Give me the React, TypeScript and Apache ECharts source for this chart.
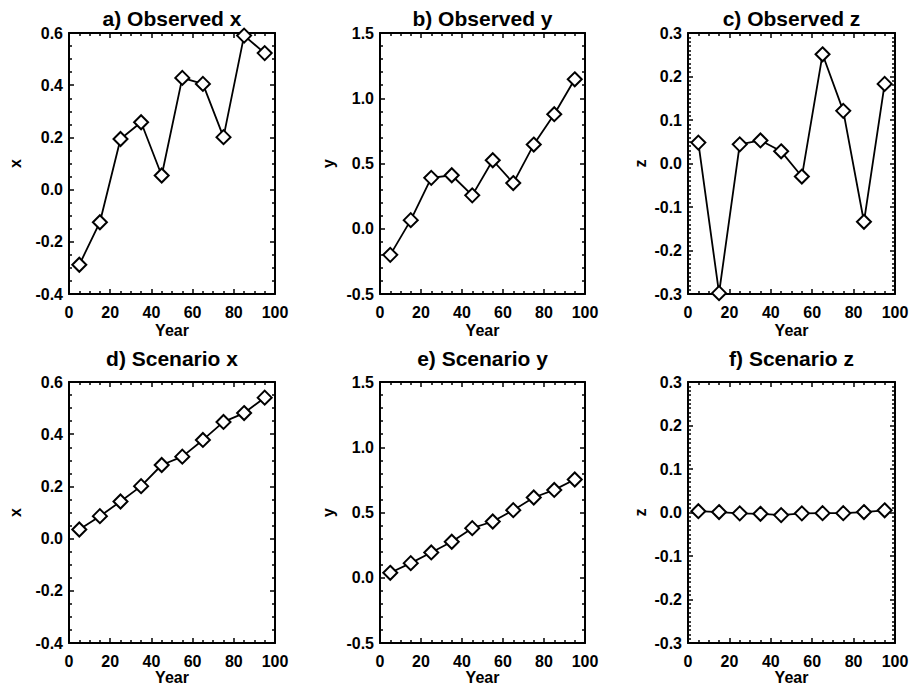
import React, { useEffect, useRef } from "react";
import * as echarts from "echarts";

const years = [5, 15, 25, 35, 45, 55, 65, 75, 85, 95];
const xTicks = [0, 20, 40, 60, 80, 100];

const observedX = [-0.288, -0.125, 0.194, 0.258, 0.054, 0.428, 0.405, 0.201, 0.59, 0.523];
const observedY = [-0.2, 0.066, 0.39, 0.41, 0.256, 0.525, 0.35, 0.645, 0.878, 1.145];
const observedZ = [0.048, -0.298, 0.044, 0.053, 0.028, -0.03, 0.251, 0.121, -0.134, 0.183];
const scenarioX = [0.035, 0.086, 0.142, 0.201, 0.282, 0.314, 0.378, 0.447, 0.481, 0.54];
const scenarioY = [0.038, 0.112, 0.194, 0.276, 0.38, 0.431, 0.518, 0.615, 0.673, 0.753];
const scenarioZ = [0.003, 0.001, -0.002, -0.003, -0.006, -0.002, -0.0015, -0.0015, 0.001, 0.005];

const titles = ["a) Observed x", "b) Observed y", "c) Observed z", "d) Scenario x", "e) Scenario y", "f) Scenario z"];
const yNames = ["x", "y", "z", "x", "y", "z"];
const yRanges = [
  { min: -0.4, max: 0.6, interval: 0.2, minor: 4 },
  { min: -0.5, max: 1.5, interval: 0.5, minor: 5 },
  { min: -0.3, max: 0.3, interval: 0.1, minor: 10 },
];
const panelValues = [observedX, observedY, observedZ, scenarioX, scenarioY, scenarioZ];

const FONT = '"Liberation Sans", Arial, Helvetica, sans-serif';

export default function App() {
  const ref = useRef<HTMLDivElement>(null);
  useEffect(() => {
    if (!ref.current) return;
    const chart = echarts.init(ref.current, null, { renderer: "svg" });
    const lefts = [69, 380, 688];
    const widths = [206, 205, 207];
    const tops = [33, 382];
    const height = 261;
    const nameGaps = [46, 44, 40];
    const labelMargins = [10, 10];
    const xNameGaps = [28, 25];

    const grids: any[] = [];
    const xAxes: any[] = [];
    const yAxes: any[] = [];
    const series: any[] = [];
    const graphics: any[] = [];

    const lineStyle = { color: "#000", width: 2 };
    const tickStyle = { color: "#000", width: 1.5 };

    for (let p = 0; p < 6; p++) {
      const col = p % 3;
      const row = Math.floor(p / 3);
      const yr = yRanges[col];
      grids.push({
        left: lefts[col],
        top: tops[row],
        width: widths[col],
        height,
        containLabel: false,
        outerBoundsMode: "none",
      });
      const baseX = {
        type: "value",
        gridIndex: p,
        min: xTicks[0],
        max: xTicks[xTicks.length - 1],
        interval: xTicks[1] - xTicks[0],
        axisLine: { show: true, onZero: false, lineStyle },
        axisTick: { show: true, inside: true, length: 5, lineStyle: tickStyle },
        minorTick: { show: true, splitNumber: 4, length: 3, lineStyle: tickStyle },
        splitLine: { show: false },
        minorSplitLine: { show: false },
      };
      xAxes.push({
        ...baseX,
        position: "bottom",
        name: "Year",
        nameLocation: "middle",
        nameGap: xNameGaps[row],
        nameTextStyle: { color: "#000", fontSize: 16, fontWeight: "bold", fontFamily: FONT },
        axisLabel: { show: true, margin: labelMargins[row], color: "#000", fontSize: 16, fontWeight: "bold", fontFamily: FONT },
      });
      xAxes.push({ ...baseX, position: "top", axisLabel: { show: false } });
      const baseY = {
        type: "value",
        gridIndex: p,
        min: yr.min,
        max: yr.max,
        interval: yr.interval,
        axisLine: { show: true, onZero: false, lineStyle },
        axisTick: { show: true, inside: true, length: 5, lineStyle: tickStyle },
        minorTick: { show: true, splitNumber: yr.minor, length: 3, lineStyle: tickStyle },
        splitLine: { show: false },
        minorSplitLine: { show: false },
      };
      yAxes.push({
        ...baseY,
        position: "left",
        name: yNames[p],
        nameLocation: "middle",
        nameGap: nameGaps[col],
        nameTextStyle: { color: "#000", fontSize: 16, fontWeight: "bold", fontFamily: FONT },
        axisLabel: {
          show: true,
          margin: 6,
          color: "#000",
          fontSize: 16,
          fontWeight: "bold",
          fontFamily: FONT,
          formatter: (v: number) => (Math.abs(v) < 1e-9 ? "0.0" : v.toFixed(1)),
        },
      });
      yAxes.push({ ...baseY, position: "right", axisLabel: { show: false } });

      series.push({
        type: "line",
        xAxisIndex: p * 2,
        yAxisIndex: p * 2,
        data: years.map((yv, i) => [yv, panelValues[p][i]]),
        symbol: "diamond",
        symbolSize: 14,
        showAllSymbol: true,
        lineStyle: { color: "#000", width: 1.8 },
        itemStyle: { color: "#fff", borderColor: "#000", borderWidth: 2 },
        clip: true,
        z: 3,
      });

      graphics.push({
        type: "text",
        x: lefts[col] + widths[col] / 2,
        y: row === 0 ? 18 : 358,
        style: {
          text: titles[p],
          fill: "#000",
          font: `bold 21px ${FONT}`,
          align: "center",
          verticalAlign: "middle",
        },
      });
    }

    chart.setOption({
      animation: false,
      backgroundColor: "#fff",
      grid: grids,
      xAxis: xAxes,
      yAxis: yAxes,
      series,
      graphic: graphics,
    });
    return () => chart.dispose();
  }, []);
  return (
    <div
      ref={ref}
      style={{ position: "fixed", left: 0, top: 0, width: 911, height: 685, background: "#fff" }}
    />
  );
}
